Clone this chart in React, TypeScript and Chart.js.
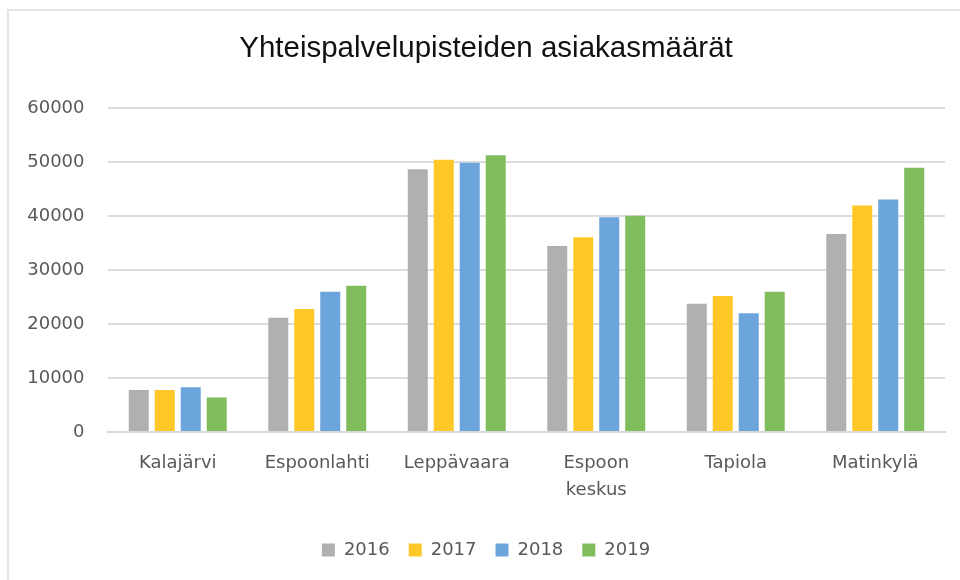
import React, { useEffect, useRef } from "react";
import { Chart, registerables } from "chart.js";

Chart.register(...registerables);

const titleText = "Yhteispalvelupisteiden asiakasmäärät";
const categories: (string | string[])[] = [
  "Kalajärvi",
  "Espoonlahti",
  "Leppävaara",
  ["Espoon", "keskus"],
  "Tapiola",
  "Matinkylä",
];
const seriesNames = ["2016", "2017", "2018", "2019"];
const values2016 = [7800, 21200, 48700, 34500, 23800, 36700];
const values2017 = [7800, 22800, 50500, 36100, 25200, 42000];
const values2018 = [8300, 26000, 49900, 39800, 22000, 43100];
const values2019 = [6400, 27100, 51300, 40100, 26000, 49000];
const seriesColors = ["#B0B0B0", "#FFC828", "#6CA5DC", "#80BD5C"];
const yTicks = [0, 10000, 20000, 30000, 40000, 50000, 60000];

export default function App() {
  const ref = useRef<HTMLCanvasElement | null>(null);

  useEffect(() => {
    if (!ref.current) return;
    const allValues = [values2016, values2017, values2018, values2019];
    const chart = new Chart(ref.current, {
      type: "bar",
      data: {
        labels: categories,
        datasets: seriesNames.map((name, i) => ({
          label: name,
          data: allValues[i],
          backgroundColor: seriesColors[i],
          borderWidth: 0,
          categoryPercentage: 0.745,
          barPercentage: 0.77,
        })),
      },
      options: {
        animation: false,
        responsive: false,
        layout: { padding: { left: 27, right: 15, top: 10, bottom: 11 } },
        plugins: {
          tooltip: { enabled: false },
          title: {
            display: true,
            text: titleText,
            color: "#111111",
            font: { family: "'Liberation Sans', Arial, sans-serif", size: 29.5, weight: "normal", lineHeight: 1.2 },
            padding: { top: 21, bottom: 42 },
          },
          legend: {
            display: true,
            position: "bottom",
            labels: {
              color: "#595959",
              font: { family: "'DejaVu Sans', sans-serif", size: 18 },
              boxWidth: 13,
              boxHeight: 13,
              padding: 19,
            },
          },
        },
        scales: {
          x: {
            grid: { display: false, drawTicks: false },
            border: { display: true, color: "#D9D9D9", width: 2 },
            ticks: {
              color: "#595959",
              font: { family: "'DejaVu Sans', sans-serif", size: 18, lineHeight: 1.5 },
              padding: 18,
              maxRotation: 0,
              autoSkip: false,
            },
          },
          y: {
            min: 0,
            max: 60000,
            afterBuildTicks: (axis: any) => {
              axis.ticks = yTicks.map((v) => ({ value: v }));
            },
            afterFit: (axis: any) => {
              axis.width = 81;
            },
            grid: { color: "#DCDCDC", lineWidth: 2, drawTicks: false },
            border: { display: false },
            ticks: {
              color: "#595959",
              font: { family: "'DejaVu Sans', sans-serif", size: 18 },
              padding: 23.5,
              callback: (v: any) => String(v),
            },
          },
        },
      },
    });
    return () => chart.destroy();
  }, []);

  return (
    <div style={{ position: "fixed", left: 0, top: 0, width: 960, height: 580, background: "#ffffff", overflow: "hidden" }}>
      <div
        style={{
          position: "absolute",
          left: 7,
          top: 9,
          width: 960,
          height: 600,
          borderTop: "2px solid #E4E4E4",
          borderLeft: "2px solid #E4E4E4",
        }}
      />
      <canvas ref={ref} width={960} height={580} style={{ position: "absolute", left: 0, top: 0, width: 960, height: 580 }} />
    </div>
  );
}
